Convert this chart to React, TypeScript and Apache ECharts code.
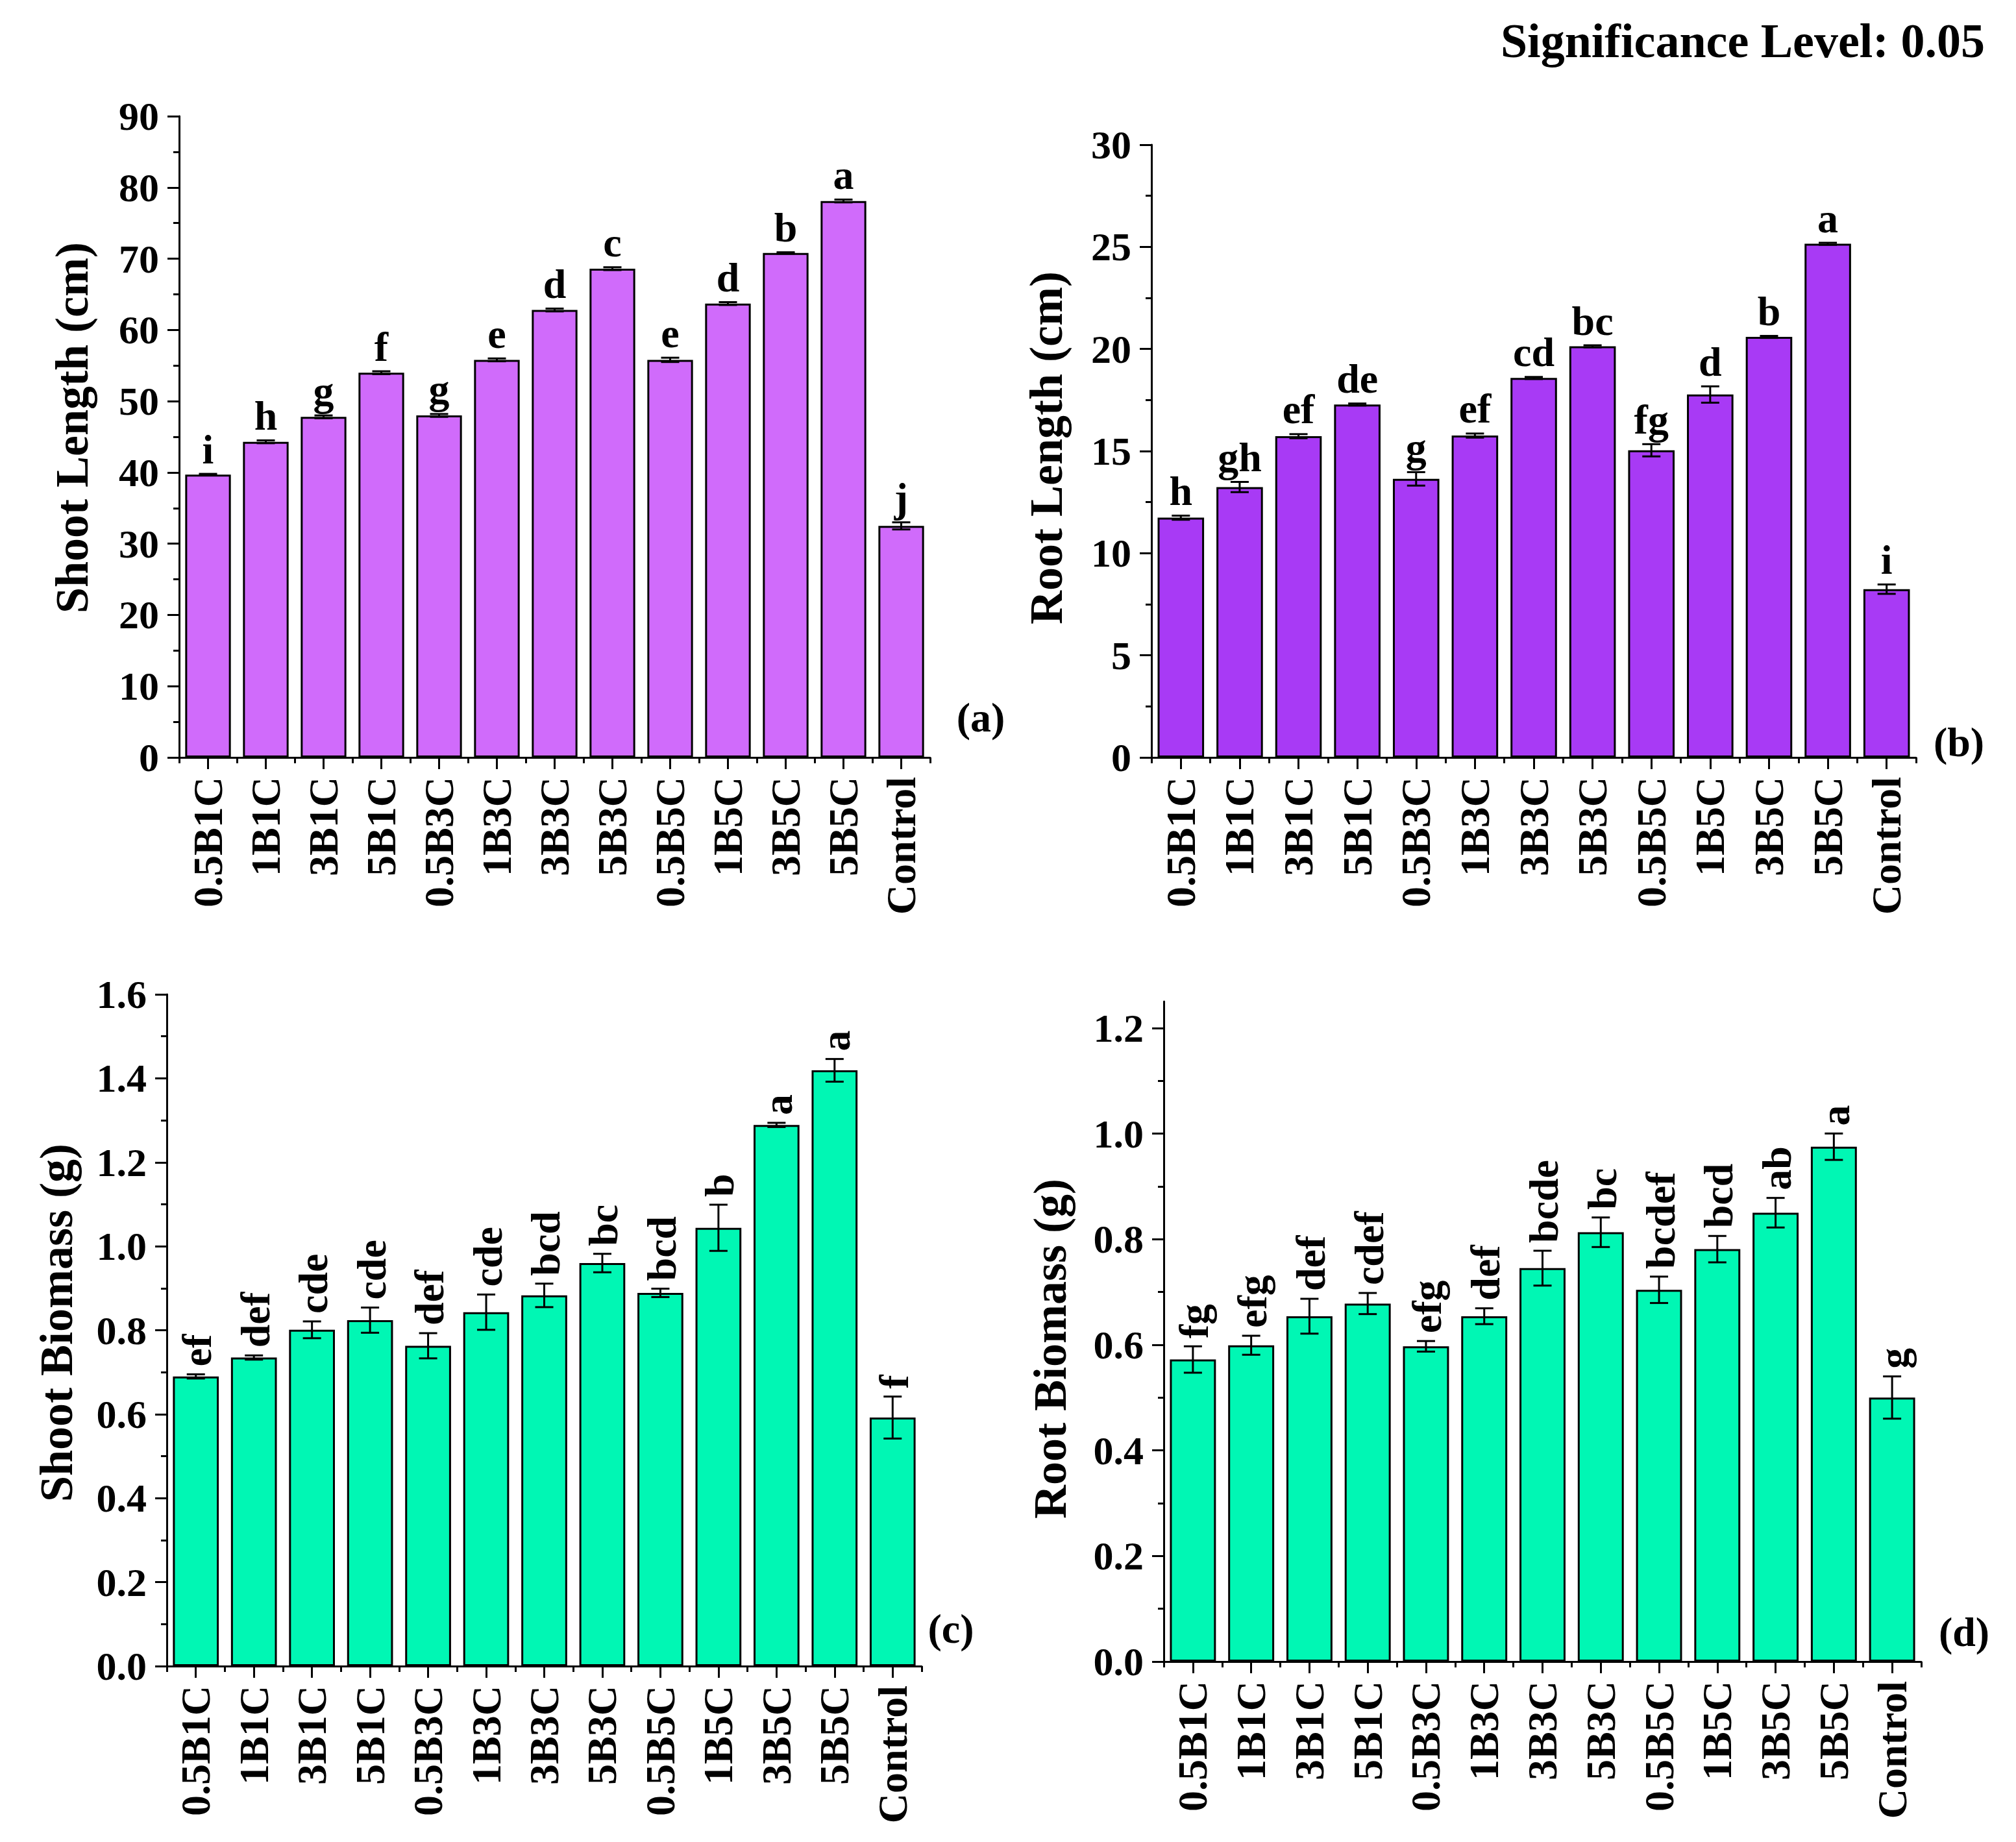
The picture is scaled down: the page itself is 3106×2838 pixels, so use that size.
import React, { useEffect, useRef } from "react";
import * as echarts from "echarts";

const FONT = "'Liberation Serif', 'Times New Roman', serif";

const categories = ["0.5B1C", "1B1C", "3B1C", "5B1C", "0.5B3C", "1B3C", "3B3C", "5B3C", "0.5B5C", "1B5C", "3B5C", "5B5C", "Control"];

const shootLength = [39.7, 44.3, 47.8, 54.0, 48.0, 55.8, 62.8, 68.6, 55.8, 63.7, 70.8, 78.1, 32.5];
const shootLengthErr = [0.1, 0.2, 0.2, 0.2, 0.2, 0.2, 0.2, 0.2, 0.3, 0.2, 0.1, 0.2, 0.5];
const shootLengthLetters = ["i", "h", "g", "f", "g", "e", "d", "c", "e", "d", "b", "a", "j"];

const rootLength = [11.74, 13.24, 15.73, 17.28, 13.64, 15.76, 18.58, 20.13, 15.04, 17.77, 20.59, 25.15, 8.24];
const rootLengthErr = [0.1, 0.25, 0.1, 0.05, 0.33, 0.1, 0.05, 0.05, 0.3, 0.4, 0.05, 0.05, 0.23];
const rootLengthLetters = ["h", "gh", "ef", "de", "g", "ef", "cd", "bc", "fg", "d", "b", "a", "i"];

const shootBiomass = [0.69, 0.735, 0.801, 0.824, 0.763, 0.843, 0.883, 0.96, 0.889, 1.044, 1.289, 1.419, 0.592];
const shootBiomassErr = [0.005, 0.005, 0.02, 0.03, 0.03, 0.042, 0.028, 0.022, 0.01, 0.055, 0.005, 0.027, 0.05];
const shootBiomassLetters = ["ef", "def", "cde", "cde", "def", "cde", "bcd", "bc", "bcd", "b", "a", "a", "f"];

const rootBiomass = [0.572, 0.599, 0.654, 0.678, 0.597, 0.654, 0.745, 0.813, 0.704, 0.781, 0.85, 0.975, 0.5];
const rootBiomassErr = [0.025, 0.018, 0.033, 0.02, 0.01, 0.015, 0.033, 0.028, 0.025, 0.025, 0.028, 0.025, 0.04];
const rootBiomassLetters = ["fg", "efg", "def", "cdef", "efg", "def", "bcde", "bc", "bcdef", "bcd", "ab", "a", "g"];

const COLOR_A = "#D06BFB";
const COLOR_B = "#A83AF5";
const COLOR_CD = "#00F7B4";

function xMain(gi: number) {
  return {
    type: "category",
    gridIndex: gi,
    position: "bottom",
    data: categories,
    boundaryGap: true,
    axisLine: { show: true, lineStyle: { color: "#000", width: 3 } },
    axisTick: { show: true, alignWithLabel: true, interval: 0, length: 18, lineStyle: { color: "#000", width: 3 } },
    axisLabel: { interval: 0, rotate: 90, margin: 30, fontSize: 64, fontWeight: "bold", fontFamily: FONT, color: "#000" },
    splitLine: { show: false },
  };
}

function xMinor(gi: number) {
  return {
    type: "category",
    gridIndex: gi,
    position: "bottom",
    data: categories,
    boundaryGap: true,
    axisLine: { show: false },
    axisTick: { show: true, interval: 0, length: 9, lineStyle: { color: "#000", width: 3 } },
    axisLabel: { show: false },
    splitLine: { show: false },
  };
}

function yVal(gi: number, max: number, interval: number, decimals: number, showLine = true, showTicks = true) {
  return {
    type: "value",
    gridIndex: gi,
    min: 0,
    max,
    interval,
    axisLine: { show: showLine, lineStyle: { color: "#000", width: 3 } },
    axisTick: { show: showTicks, length: 18, lineStyle: { color: "#000", width: 3 } },
    minorTick: { show: showTicks, splitNumber: 2, length: 9, lineStyle: { color: "#000", width: 3 } },
    splitLine: { show: false },
    minorSplitLine: { show: false },
    axisLabel: {
      show: showTicks,
      margin: 31,
      fontSize: 62,
      fontWeight: "bold",
      fontFamily: FONT,
      color: "#000",
      formatter: (v: number) => v.toFixed(decimals),
    },
  };
}

function barSeries(xi: number, yi: number, data: number[], color: string) {
  return {
    type: "bar",
    xAxisIndex: xi,
    yAxisIndex: yi,
    data,
    barCategoryGap: "21%",
    itemStyle: { color, borderColor: "#000", borderWidth: 3 },
    z: 2,
  };
}

function errSeries(xi: number, yi: number, values: number[], errs: number[], letters: string[], rotated: boolean) {
  return {
    type: "custom",
    xAxisIndex: xi,
    yAxisIndex: yi,
    z: 10,
    data: values.map((v, i) => [i, v, errs[i]]),
    renderItem: (params: any, api: any) => {
      const i = api.value(0);
      const v = api.value(1);
      const e = api.value(2);
      const top = api.coord([i, v + e]);
      const bot = api.coord([i, v - e]);
      const cap = 14;
      const ls = { stroke: "#000", lineWidth: 3 };
      const txtStyle = {
        text: letters[params.dataIndex],
        fontSize: 64,
        fontWeight: "bold",
        fontFamily: FONT,
        fill: "#000",
      };
      const label = rotated
        ? {
            type: "group",
            x: top[0] + 2,
            y: top[1] - 12,
            rotation: Math.PI / 2,
            children: [
              {
                type: "text",
                x: 0,
                y: 0,
                style: { ...txtStyle, x: 0, y: 0, align: "left", verticalAlign: "middle" },
              },
            ],
          }
        : {
            type: "text",
            x: top[0],
            y: top[1] - 6,
            style: { ...txtStyle, align: "center", verticalAlign: "bottom" },
          };
      return {
        type: "group",
        children: [
          { type: "line", shape: { x1: top[0], y1: top[1], x2: bot[0], y2: bot[1] }, style: ls },
          { type: "line", shape: { x1: top[0] - cap, y1: top[1], x2: top[0] + cap, y2: top[1] }, style: ls },
          { type: "line", shape: { x1: bot[0] - cap, y1: bot[1], x2: bot[0] + cap, y2: bot[1] }, style: ls },
          label,
        ],
      };
    },
  };
}

function gText(text: string, x: number, y: number, size: number, rotate = false, align = "center") {
  return {
    type: "text",
    x,
    y,
    rotation: rotate ? Math.PI / 2 : 0,
    style: {
      text,
      fontSize: size,
      fontWeight: "bold",
      fontFamily: FONT,
      fill: "#000",
      align,
      verticalAlign: "middle",
    },
  };
}

export default function App() {
  const ref = useRef<HTMLDivElement>(null);
  useEffect(() => {
    document.body.style.margin = "0";
    if (!ref.current) return;
    const chart = echarts.init(ref.current, null, { renderer: "svg" });
    const option: any = {
      animation: false,
      backgroundColor: "#fff",
      textStyle: { fontFamily: FONT },
      grid: [
        { left: 276, top: 179, width: 1157, height: 988 },
        { left: 1774, top: 223, width: 1178, height: 944 },
        { left: 257, top: 1532, width: 1163, height: 1035 },
        { left: 1793, top: 1543, width: 1167, height: 1017 },
        { left: 1793, top: 1584, width: 1167, height: 976 },
      ],
      xAxis: [
        xMain(0), xMinor(0),
        xMain(1), xMinor(1),
        xMain(2), xMinor(2),
        xMain(3), xMinor(3),
        { type: "category", gridIndex: 4, data: categories, show: false },
      ],
      yAxis: [
        yVal(0, 90, 10, 0),
        yVal(1, 30, 5, 0),
        yVal(2, 1.6, 0.2, 1),
        yVal(3, 1.25, 0.25, 1, true, false),
        yVal(4, 1.2, 0.2, 1, false, true),
      ],
      series: [
        barSeries(0, 0, shootLength, COLOR_A),
        errSeries(0, 0, shootLength, shootLengthErr, shootLengthLetters, false),
        barSeries(2, 1, rootLength, COLOR_B),
        errSeries(2, 1, rootLength, rootLengthErr, rootLengthLetters, false),
        barSeries(4, 2, shootBiomass, COLOR_CD),
        errSeries(4, 2, shootBiomass, shootBiomassErr, shootBiomassLetters, true),
        barSeries(6, 3, rootBiomass, COLOR_CD),
        errSeries(6, 3, rootBiomass, rootBiomassErr, rootBiomassLetters, true),
      ],
      graphic: [
        gText("Significance Level: 0.05", 3058, 63, 74, false, "right"),
        gText("Shoot Length (cm)", 111, 659, 72, true),
        gText("Root Length (cm)", 1612, 690, 72, true),
        gText("Shoot Biomass (g)", 87, 2038, 72, true),
        gText("Root Biomass (g)", 1618, 2078, 72, true),
        gText("(a)", 1511, 1105, 64),
        gText("(b)", 3018, 1143, 64),
        gText("(c)", 1465, 2509, 64),
        gText("(d)", 3026, 2514, 64),
      ],
    };
    chart.setOption(option);
    return () => chart.dispose();
  }, []);
  return <div ref={ref} style={{ width: 3106, height: 2838 }} />;
}
